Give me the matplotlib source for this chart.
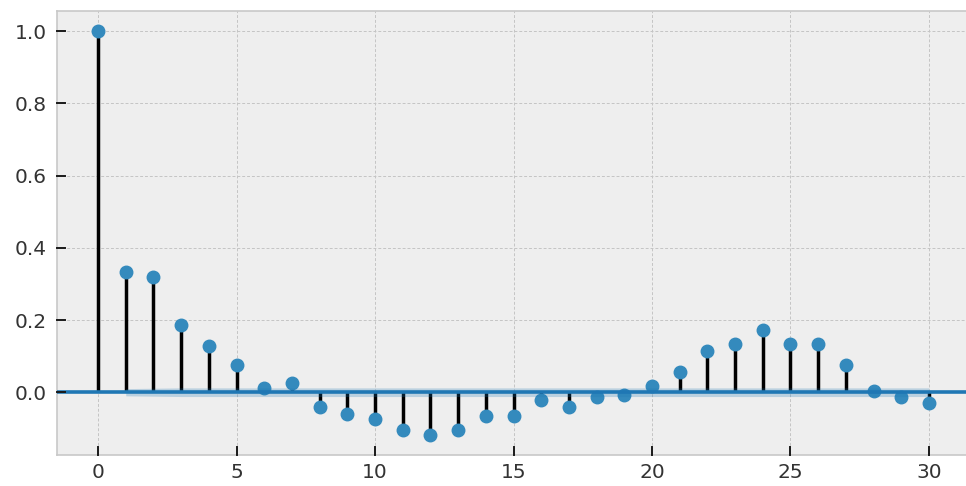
import numpy as np
import matplotlib
matplotlib.use("Agg")
import matplotlib.pyplot as plt

# autocorrelation values by lag
lags = list(range(31))
acf_values = [
    1.000, 0.334, 0.320, 0.185, 0.127, 0.075, 0.011, 0.025, -0.040, -0.060,
    -0.074, -0.104, -0.118, -0.104, -0.066, -0.066, -0.021, -0.040, -0.013, -0.008,
    0.018, 0.055, 0.113, 0.133, 0.171, 0.133, 0.133, 0.075, 0.004, -0.014,
    -0.029,
]
# half width of the confidence band for lags 1..30
conf_half = [
    0.010, 0.011, 0.012, 0.012, 0.012, 0.012, 0.012, 0.012, 0.012, 0.012,
    0.012, 0.012, 0.012, 0.012, 0.012, 0.012, 0.012, 0.012, 0.012, 0.012,
    0.012, 0.012, 0.012, 0.012, 0.012, 0.012, 0.012, 0.012, 0.012, 0.012,
]
x_ticks = [0, 5, 10, 15, 20, 25, 30]
y_ticks = [0.0, 0.2, 0.4, 0.6, 0.8, 1.0]

plt.style.use("bmh")

fig = plt.figure(figsize=(9.66, 4.86), dpi=100)
ax = fig.add_axes([56.5 / 966, 31 / 486, 914 / 966, 444 / 486])

lag_arr = np.array(lags)
acf_arr = np.array(acf_values)

ax.vlines(lag_arr, 0, acf_arr, colors="black", linewidth=2.5, zorder=2)
ax.axhline(0, color="#1f77b4", linewidth=2.6, zorder=4)
ax.plot(lag_arr, acf_arr, marker="o", markersize=9, linestyle="None",
        color="#348ABD", zorder=3)

band = np.array(conf_half)
ax.fill_between(lag_arr[1:], -band, band, color="#1f77b4", alpha=0.25,
                linewidth=0, zorder=3)

ax.margins(0.05)
ax.set_xticks(x_ticks)
ax.set_yticks(y_ticks)
ax.tick_params(axis="x", labelsize=14.5, labelcolor="#333333", length=0, pad=6)
ax.tick_params(axis="y", labelsize=14.5, labelcolor="#333333", length=0, pad=7)
ax.grid(True, linestyle=(0, (3, 2)), color="#c4c4c4", linewidth=0.7)

# short inward tick marks along the bottom and left edges
for t in x_ticks:
    ax.plot([t, t], [0, 0.018], color="#1a1a1a", linewidth=1.4,
            transform=ax.get_xaxis_transform(), clip_on=False, zorder=5)
for t in y_ticks:
    ax.plot([0, 0.009], [t, t], color="#1a1a1a", linewidth=1.4,
            transform=ax.get_yaxis_transform(), clip_on=False, zorder=5)

for side in ("left", "bottom", "top", "right"):
    ax.spines[side].set_color("#c8c8c8")
    ax.spines[side].set_linewidth(1.2)

fig.savefig("out.png", dpi=100)
